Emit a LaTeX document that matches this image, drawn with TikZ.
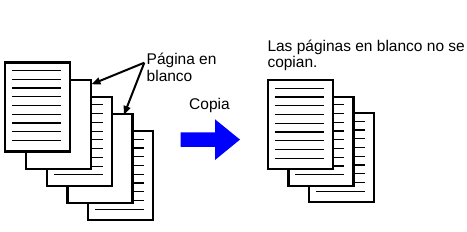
\documentclass[tikz,border=0pt]{standalone}
\usepackage{fontspec}
\setmainfont{Liberation Sans}
\usetikzlibrary{arrows.meta}

\tikzset{
  sheet/.style={draw, line width=2.2pt, fill=white, anchor=north west, inner sep=0pt, minimum width=65pt, minimum height=89pt},
  textrule/.style={line width=1.2pt},
  callout/.style={line width=2pt, -{Triangle[length=9pt,width=7pt]}},
  lbl/.style={inner sep=0pt, align=left, font=\fontsize{15.5}{16.5}\selectfont}
}
\newcommand{\ruledsheet}[1]{\foreach \k in {0,...,8} \draw[textrule] ([xshift=8pt,yshift={-(9+8.75*\k)*1pt}]#1.north west) -- ++(49,0);}

\begin{document}
\begin{tikzpicture}[x=1pt, y=-1pt]
    \useasboundingbox (0,0) rectangle (467,232);

    \node[sheet] (ltE) at (87.2,130.3) {};
    \ruledsheet{ltE}
    \node[sheet] (ltD) at (66.4,113.1) {};
    \node[sheet] (ltC) at (45.6,95.9) {};
    \ruledsheet{ltC}
    \node[sheet] (ltB) at (24.8,78.7) {};
    \node[sheet] (ltA) at (4,61.5) {};
    \ruledsheet{ltA}

    \node[lbl, font=\fontsize{15.5}{17}\selectfont, anchor=base west] (blank) at (146.5,82) {Página en\\blanco};
    \coordinate (src) at (144.3,62.7);
    \draw[callout] (src) -- ([xshift=-0.5pt,yshift=-5.6pt]ltB.north east);
    \draw[callout] (src) -- ([xshift=-9.7pt,yshift=-1.9pt]ltD.north east);

    \node[lbl, anchor=base west] (copy) at (189,109.3) {Copia};
    \fill[blue] (180.7,132.3) -- (215,132.3) -- (215,119.3) -- (240,139.6) -- (215,160) -- (215,146.8) -- (180.7,146.8) -- cycle;

    \node[lbl, anchor=base west] (note) at (267.3,68) {Las páginas en blanco no se\\copian.};

    \node[sheet] (rtC) at (308,112.3) {};
    \ruledsheet{rtC}
    \node[sheet] (rtB) at (287.3,95.7) {};
    \ruledsheet{rtB}
    \node[sheet] (rtA) at (266.7,79.3) {};
    \ruledsheet{rtA}
\end{tikzpicture}
\end{document}
